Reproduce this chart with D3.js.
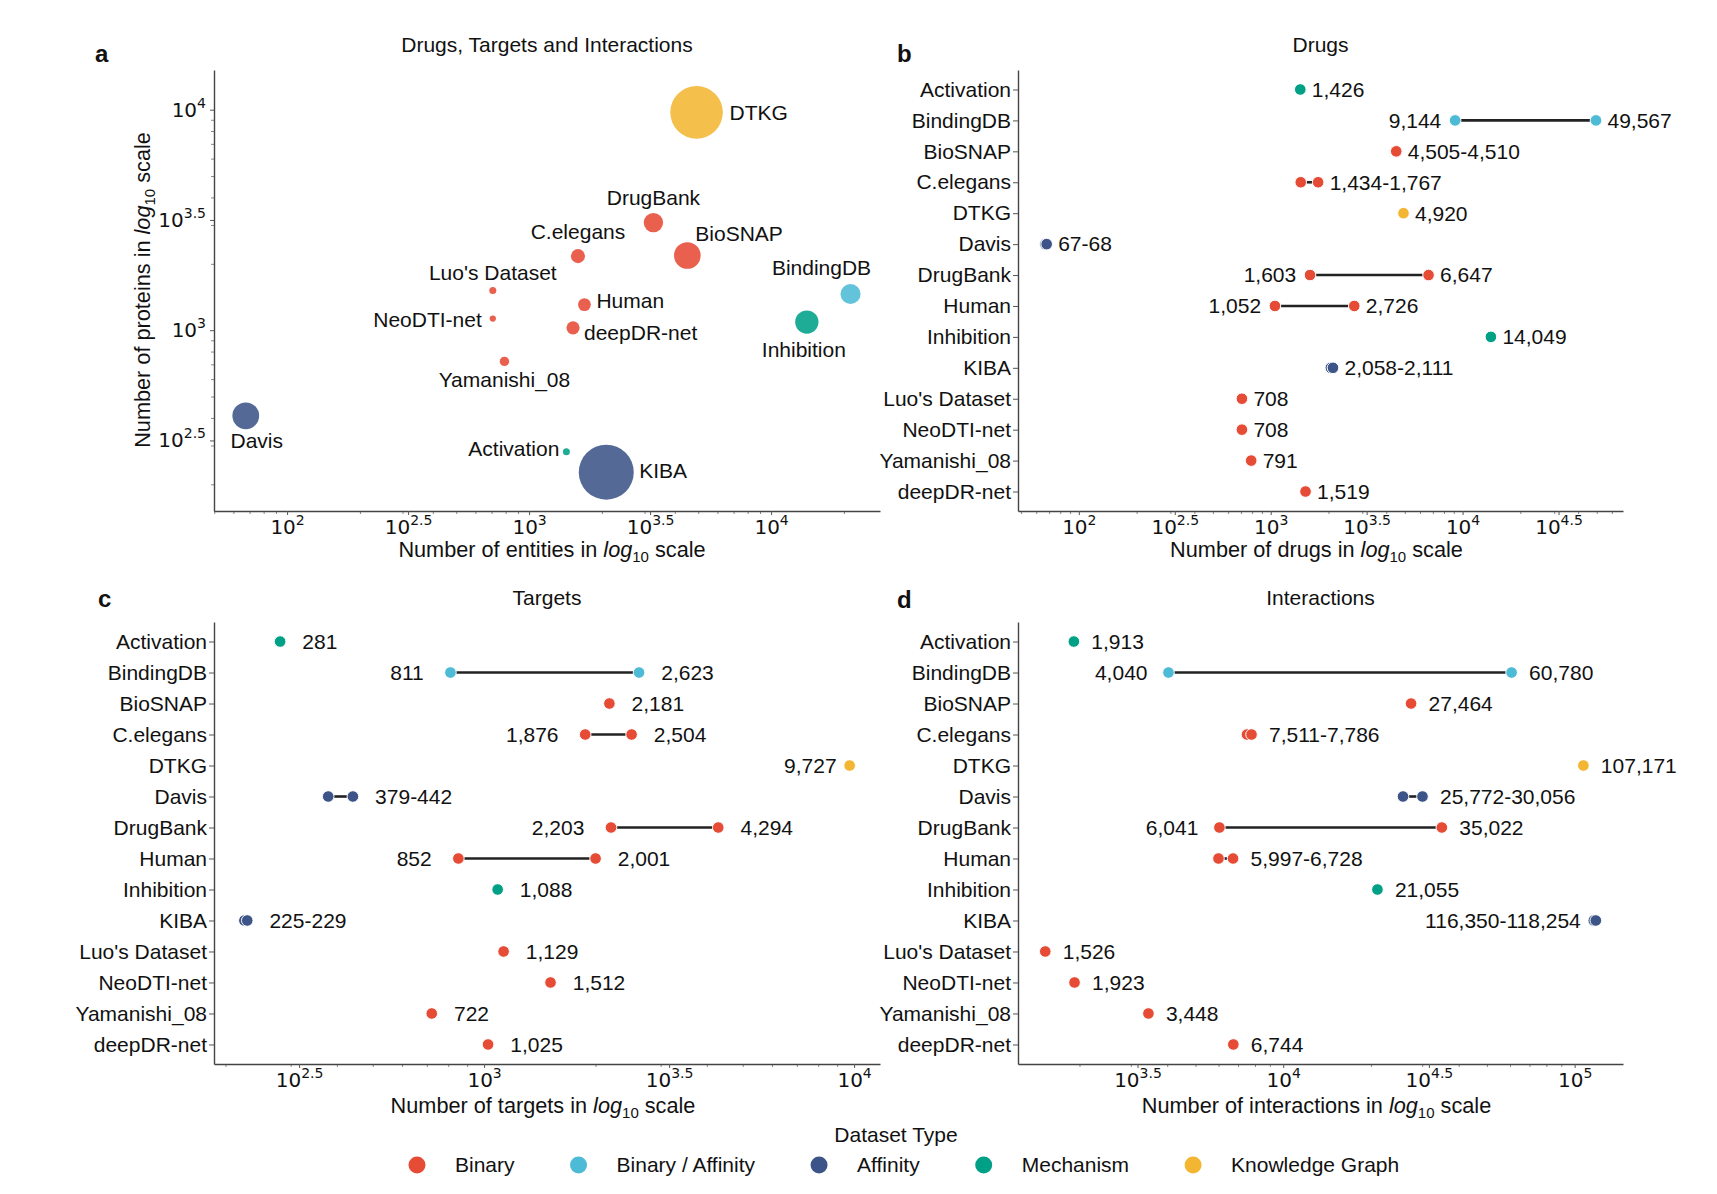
<!DOCTYPE html>
<html>
<head>
<meta charset="utf-8">
<script src="https://cdn.jsdelivr.net/npm/d3@7"></script>
<style>
  body { margin: 0; background: #fff; }
  text { font-family: "Liberation Sans", Arial, sans-serif; font-size: 21px; fill: #111; }
  .logaxis text { font-family: "DejaVu Sans", sans-serif; font-size: 20px; }
  .axtitle { font-size: 21.7px; }
  .letter { font-weight: bold; font-size: 24px; }
</style>
</head>
<body>
<svg id="chart" width="1717" height="1194"></svg>
<script>
/* Dataset overview: bubble chart (a) and three dumbbell panels (b-d) */

const datasets = ["Activation", "BindingDB", "BioSNAP", "C.elegans", "DTKG", "Davis", "DrugBank",
  "Human", "Inhibition", "KIBA", "Luo's Dataset", "NeoDTI-net", "Yamanishi_08", "deepDR-net"];
const datasetTypes = ["Mechanism", "Binary / Affinity", "Binary", "Binary", "Knowledge Graph", "Affinity", "Binary",
  "Binary", "Mechanism", "Affinity", "Binary", "Binary", "Binary", "Binary"];

const typeNames = ["Binary", "Binary / Affinity", "Affinity", "Mechanism", "Knowledge Graph"];
const typeColors = ["#E64B35", "#4DBBD5", "#3C5488", "#00A087", "#F2B632"];

// panel b: drugs (min / max over dataset versions)
const drugsMin = [1426, 9144, 4505, 1434, 4920, 67, 1603, 1052, 14049, 2058, 708, 708, 791, 1519];
const drugsMax = [1426, 49567, 4510, 1767, 4920, 68, 6647, 2726, 14049, 2111, 708, 708, 791, 1519];
// panel c: targets
const targetsMin = [281, 811, 2181, 1876, 9727, 379, 2203, 852, 1088, 225, 1129, 1512, 722, 1025];
const targetsMax = [281, 2623, 2181, 2504, 9727, 442, 4294, 2001, 1088, 229, 1129, 1512, 722, 1025];
// panel d: interactions
const interMin = [1913, 4040, 27464, 7511, 107171, 25772, 6041, 5997, 21055, 116350, 1526, 1923, 3448, 6744];
const interMax = [1913, 60780, 27464, 7786, 107171, 30056, 35022, 6728, 21055, 118254, 1526, 1923, 3448, 6744];

// panel a: bubble positions
const bubbleDrugs = [1426, 21290, 4507, 1592, 4920, 67.5, 3264, 1693, 14049, 2084, 708, 708, 791, 1519];
const bubbleTargets = [281, 1459, 2181, 2167, 9727, 409, 3076, 1306, 1088, 227, 1512, 1129, 722, 1025];
const bubbleInteractions = [1913, 15670, 27464, 7647, 107171, 27832, 14545, 6352, 21055, 117299, 1923, 1526, 3448, 6744];

// label placement for the bubbles: [anchor, dx, dy]
const bubbleLabelPos = {
  "DTKG": ["start", 33, 0], "DrugBank": ["middle", 0, -25], "C.elegans": ["middle", 0, -24],
  "BioSNAP": ["start", 8, -22], "BindingDB": ["middle", -29, -26], "Luo's Dataset": ["middle", 0, -18],
  "Human": ["start", 12, -4], "NeoDTI-net": ["end", -11, 1], "deepDR-net": ["start", 11, 5],
  "Inhibition": ["middle", -3, 28], "Yamanishi_08": ["middle", 0, 18], "Davis": ["middle", 11, 25],
  "Activation": ["end", -7, -3], "KIBA": ["start", 33, -2]
};

const svg = d3.select('#chart');
const fmt = d3.format(',');
const color = d3.scaleOrdinal().domain(typeNames).range(typeColors);

function logTicks(lo, hi) {
  const majors = [], minors = [];
  for (let e = Math.ceil(lo * 2) / 2; e <= hi + 1e-9; e += 0.5) majors.push(Math.pow(10, e));
  for (let k = Math.floor(lo); k <= Math.ceil(hi); k++) {
    for (let m = 2; m <= 9; m++) {
      const v = m * Math.pow(10, k), l = Math.log10(v);
      if (l >= lo && l <= hi) minors.push(v);
    }
  }
  return { majors, minors };
}

// "10" with a superscript exponent
function powText(sel) {
  sel.each(function (d) {
    const e = Math.round(Math.log10(d) * 2) / 2;
    const t = d3.select(this).text(null);
    t.append('tspan').text('10');
    t.append('tspan').attr('dy', -9).style('font-size', '14px').text(e);
  });
}

function styleAxis(ax) {
  ax.attr('font-size', null).attr('font-family', null);
  ax.select('.domain').attr('stroke', '#444').attr('stroke-width', 1.4);
  ax.selectAll('.tick line').attr('stroke', '#555');
}

function logAxis(g, scale, pos, lo, hi, vertical) {
  const t = logTicks(lo, hi);
  const mk = vertical ? d3.axisLeft : d3.axisBottom;
  const tr = vertical ? `translate(${pos},0)` : `translate(0,${pos})`;
  g.append('g').attr('transform', tr)
    .call(mk(scale).tickValues(t.minors).tickSize(3).tickFormat(''))
    .call(a => a.select('.domain').remove())
    .selectAll('.tick line').attr('stroke', '#888');
  const ax = g.append('g').attr('class', 'logaxis').attr('transform', tr)
    .call(mk(scale).tickValues(t.majors).tickSize(4).tickSizeOuter(0).tickPadding(vertical ? 4 : 5));
  styleAxis(ax);
  ax.selectAll('.tick text').call(powText);
}

// axis title with italic "log" and subscript 10
function logTitle(sel, prefix) {
  sel.attr('class', 'axtitle');
  sel.append('tspan').text(prefix);
  sel.append('tspan').style('font-style', 'italic').text('log');
  sel.append('tspan').attr('dy', 5).style('font-size', '15px').text('10');
  sel.append('tspan').attr('dy', -5).text(' scale');
}

function panelHead(letter, lx, ly, title, cx, ty) {
  svg.append('text').attr('class', 'letter').attr('x', lx).attr('y', ly).text(letter);
  svg.append('text').attr('x', cx).attr('y', ty).attr('text-anchor', 'middle').text(title);
}

function drawBubbles() {
  const left = 214, right = 880, top = 70, bottom = 511;
  const lo = 1.698, hi = 4.45, ylo = 2.18, yhi = 4.18;
  const g = svg.append('g');
  const x = d3.scaleLog().domain([10 ** lo, 10 ** hi]).range([left, right]);
  const y = d3.scaleLog().domain([10 ** ylo, 10 ** yhi]).range([bottom, top]);
  const r = d3.scaleSqrt().domain([0, d3.max(bubbleInteractions)]).range([0, 27.5]);

  logAxis(g, x, bottom, lo, hi, false);
  logAxis(g, y, left, ylo, yhi, true);

  const rows = datasets.map((name, i) => ({
    name, type: datasetTypes[i], dx: bubbleDrugs[i], ty: bubbleTargets[i], n: bubbleInteractions[i]
  })).sort((a, b) => b.n - a.n);

  g.selectAll('.bubble').data(rows).enter().append('circle')
    .attr('cx', d => x(d.dx)).attr('cy', d => y(d.ty)).attr('r', d => r(d.n))
    .attr('fill', d => color(d.type)).attr('fill-opacity', 0.88);

  g.selectAll('.blabel').data(rows).enter().append('text')
    .attr('x', d => x(d.dx) + bubbleLabelPos[d.name][1])
    .attr('y', d => y(d.ty) + bubbleLabelPos[d.name][2])
    .attr('dy', '0.35em')
    .attr('text-anchor', d => bubbleLabelPos[d.name][0])
    .text(d => d.name);

  panelHead('a', 95, 62, 'Drugs, Targets and Interactions', (left + right) / 2, 52);
  svg.append('text').attr('x', (left + right) / 2 + 5).attr('y', 557).attr('text-anchor', 'middle')
    .call(logTitle, 'Number of entities in ');
  svg.append('text').attr('transform', 'translate(150,290) rotate(-90)').attr('text-anchor', 'middle')
    .call(logTitle, 'Number of proteins in ');
}

function drawDumbbell(p) {
  const g = svg.append('g');
  const x = d3.scaleLog().domain([10 ** p.lo, 10 ** p.hi]).range([p.left, p.right]);
  const y = d3.scalePoint().domain(datasets).range([p.top, p.bottom]).padding(0.63);

  logAxis(g, x, p.bottom, p.lo, p.hi, false);
  const ay = g.append('g').attr('transform', `translate(${p.left},0)`)
    .call(d3.axisLeft(y).tickSize(5).tickSizeOuter(0).tickPadding(2));
  styleAxis(ay);

  const rows = datasets.map((name, i) => ({ name, type: datasetTypes[i], lo: p.mins[i], hi: p.maxs[i] }));

  g.selectAll('.link').data(rows.filter(d => d.hi > d.lo)).enter().append('line')
    .attr('x1', d => x(d.lo)).attr('x2', d => x(d.hi))
    .attr('y1', d => y(d.name)).attr('y2', d => y(d.name))
    .attr('stroke', '#222').attr('stroke-width', 2.6);

  const ends = rows.flatMap(d => d.hi > d.lo ? [{ ...d, v: d.lo }, { ...d, v: d.hi }] : [{ ...d, v: d.lo }]);
  g.selectAll('.dot').data(ends).enter().append('circle')
    .attr('cx', d => x(d.v)).attr('cy', d => y(d.name)).attr('r', 5.8)
    .attr('fill', d => color(d.type)).attr('stroke', '#fff').attr('stroke-width', 1);

  rows.forEach(d => {
    const cy = y(d.name);
    if (d.hi / d.lo > 1.3) {
      g.append('text').attr('x', x(d.lo / 10 ** 0.072)).attr('y', cy).attr('dy', '0.35em')
        .attr('text-anchor', 'end').text(fmt(d.lo));
      g.append('text').attr('x', x(d.hi * 10 ** 0.06)).attr('y', cy).attr('dy', '0.35em').text(fmt(d.hi));
    } else {
      const label = d.hi > d.lo ? fmt(d.lo) + '-' + fmt(d.hi) : fmt(d.lo);
      const lx = x(d.hi * 10 ** 0.06);
      const t = g.append('text').attr('x', lx).attr('y', cy).attr('dy', '0.35em').text(label);
      // flip to the left when it would run out of the panel
      if (lx + t.node().getComputedTextLength() > p.cellRight) {
        t.attr('x', x(d.lo) - 13).attr('text-anchor', 'end');
      }
    }
  });

  const cx = (p.left + p.right) / 2;
  panelHead(p.letter, p.letterX, p.letterY, p.title, cx, p.titleY);
  svg.append('text').attr('x', cx - 4).attr('y', p.labelY).attr('text-anchor', 'middle').call(logTitle, p.xTitle);
}

function drawLegend() {
  svg.append('text').attr('x', 896).attr('y', 1142).attr('text-anchor', 'middle').text('Dataset Type');
  let cx = 417;
  typeNames.forEach(name => {
    svg.append('circle').attr('cx', cx).attr('cy', 1165).attr('r', 8.5).attr('fill', color(name));
    const t = svg.append('text').attr('x', cx + 38).attr('y', 1165).attr('dy', '0.35em').text(name);
    cx += 38 + t.node().getComputedTextLength() + 64;
  });
}

drawBubbles();
drawDumbbell({ letter: 'b', letterX: 897, letterY: 62, title: 'Drugs', titleY: 52,
  xTitle: 'Number of drugs in ', labelY: 557, mins: drugsMin, maxs: drugsMax,
  lo: 1.683, hi: 4.836, left: 1018, right: 1623, top: 70, bottom: 511, cellRight: 1717 });
drawDumbbell({ letter: 'c', letterX: 98, letterY: 607, title: 'Targets', titleY: 605,
  xTitle: 'Number of targets in ', labelY: 1113, mins: targetsMin, maxs: targetsMax,
  lo: 2.27, hi: 4.07, left: 214, right: 880, top: 622, bottom: 1064, cellRight: 895 });
drawDumbbell({ letter: 'd', letterX: 897, letterY: 608, title: 'Interactions', titleY: 605,
  xTitle: 'Number of interactions in ', labelY: 1113, mins: interMin, maxs: interMax,
  lo: 3.09, hi: 5.166, left: 1018, right: 1623, top: 622, bottom: 1064, cellRight: 1717 });
drawLegend();
</script>
</body>
</html>
